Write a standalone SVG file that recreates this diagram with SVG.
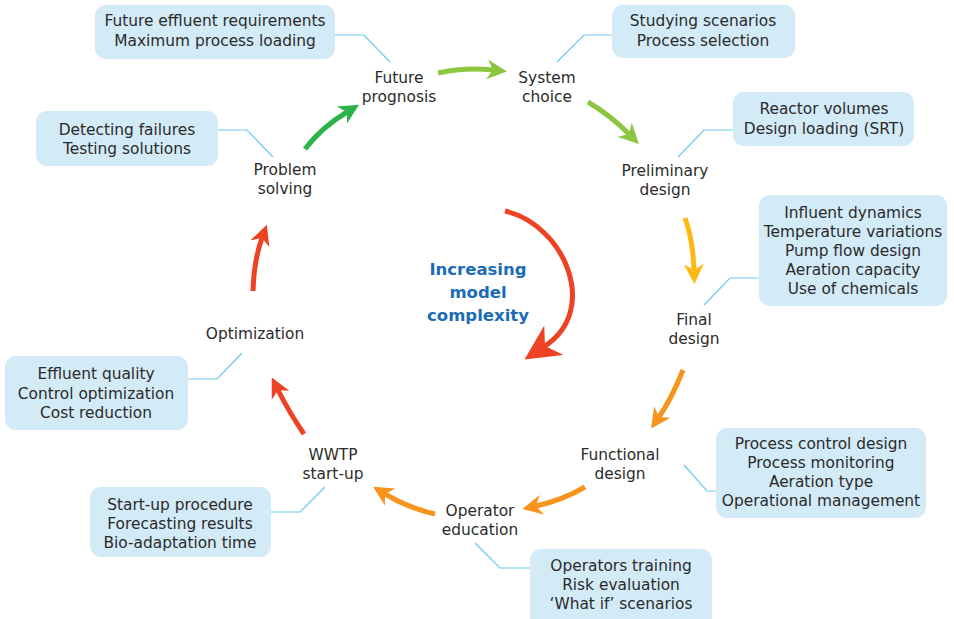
<svg xmlns="http://www.w3.org/2000/svg" width="954" height="619" viewBox="0 0 954 619">
<style>
.box{fill:#d3eaf7;}
.bt{font-family:"DejaVu Sans",sans-serif;font-size:15.4px;fill:#2b2b2b;text-anchor:middle;}
.nt{font-family:"DejaVu Sans",sans-serif;font-size:15.4px;fill:#2b2b2b;text-anchor:middle;}
.lead{fill:none;stroke:#6cc8f0;stroke-width:1.2;}
.arr{fill:none;stroke-width:5;}
.ttl{font-family:"DejaVu Sans",sans-serif;font-size:16.5px;font-weight:bold;fill:#1a6db5;text-anchor:middle;}
</style>
<defs>
<marker id="mG" viewBox="0 0 10 10" refX="3" refY="5" markerWidth="4" markerHeight="4" orient="auto" markerUnits="strokeWidth"><path d="M0,0 L10,5 L0,10 L3,5 z" fill="#2db34a"/></marker>
<marker id="mL" viewBox="0 0 10 10" refX="3" refY="5" markerWidth="4" markerHeight="4" orient="auto" markerUnits="strokeWidth"><path d="M0,0 L10,5 L0,10 L3,5 z" fill="#8cc63f"/></marker>
<marker id="mY" viewBox="0 0 10 10" refX="3" refY="5" markerWidth="4" markerHeight="4" orient="auto" markerUnits="strokeWidth"><path d="M0,0 L10,5 L0,10 L3,5 z" fill="#fdb913"/></marker>
<marker id="mO" viewBox="0 0 10 10" refX="3" refY="5" markerWidth="4" markerHeight="4" orient="auto" markerUnits="strokeWidth"><path d="M0,0 L10,5 L0,10 L3,5 z" fill="#f7941d"/></marker>
<marker id="mR" viewBox="0 0 10 10" refX="3" refY="5" markerWidth="4" markerHeight="4" orient="auto" markerUnits="strokeWidth"><path d="M0,0 L10,5 L0,10 L3,5 z" fill="#ef4123"/></marker>
<marker id="mRB" viewBox="0 0 10 10" refX="3" refY="5" markerWidth="7" markerHeight="7" orient="auto" markerUnits="strokeWidth"><path d="M0,0 L10,5 L0,10 L3,5 z" fill="#ef4123"/></marker>
</defs>

<g id="connectors">
<path class="arr" stroke="#2db34a" marker-end="url(#mG)" d="M305,149 Q322,127 347,112"/>
<path class="arr" stroke="#8cc63f" marker-end="url(#mL)" d="M438,73 Q465,67 493,70"/>
<path class="arr" stroke="#8cc63f" marker-end="url(#mL)" d="M588,102 Q610,115 629,134"/>
<path class="arr" stroke="#fdb913" marker-end="url(#mY)" d="M685,218 Q693,240 694,270"/>
<path class="arr" stroke="#f7941d" marker-end="url(#mO)" d="M683,370 Q672,398 659,417"/>
<path class="arr" stroke="#f7941d" marker-end="url(#mO)" d="M585,487 Q563,500 536,506"/>
<path class="arr" stroke="#f7941d" marker-end="url(#mO)" d="M435,514 Q408,508 385,494"/>
<path class="arr" stroke="#ef4123" marker-end="url(#mR)" d="M304,434 Q289,412 278,390"/>
<path class="arr" stroke="#ef4123" marker-end="url(#mR)" d="M253,291 Q254,260 262,238"/>
<path class="arr" stroke="#ef4123" marker-end="url(#mRB)" d="M505,211 C565,225 600,310 545,346"/>
<path class="lead" d="M335,35 H364 L390,62"/>
<path class="lead" d="M612,35 H584 L557,62"/>
<path class="lead" d="M733,130 H704 L678,157"/>
<path class="lead" d="M759,278 H730 L704,305"/>
<path class="lead" d="M684,465 L707,491 H716"/>
<path class="lead" d="M475,543 L500,568 H530"/>
<path class="lead" d="M271,512 H300 L325,487"/>
<path class="lead" d="M188,379 H217 L242,353"/>
<path class="lead" d="M218,130 H247 L273,157"/>
</g>

<g id="center-label">
<text class="ttl" x="478" y="275">Increasing</text>
<text class="ttl" x="478" y="298">model</text>
<text class="ttl" x="478" y="321">complexity</text>
</g>

<g id="node-future"><text class="nt" x="399" y="83">Future</text><text class="nt" x="399" y="102">prognosis</text></g>
<g id="node-system"><text class="nt" x="547" y="83">System</text><text class="nt" x="547" y="102">choice</text></g>
<g id="node-preliminary"><text class="nt" x="665" y="176">Preliminary</text><text class="nt" x="665" y="195">design</text></g>
<g id="node-final"><text class="nt" x="694" y="325">Final</text><text class="nt" x="694" y="344">design</text></g>
<g id="node-functional"><text class="nt" x="620" y="460">Functional</text><text class="nt" x="620" y="479">design</text></g>
<g id="node-operator"><text class="nt" x="480" y="516">Operator</text><text class="nt" x="480" y="535">education</text></g>
<g id="node-wwtp"><text class="nt" x="333" y="460">WWTP</text><text class="nt" x="333" y="479">start-up</text></g>
<g id="node-optimization"><text class="nt" x="255" y="339">Optimization</text></g>
<g id="node-problem"><text class="nt" x="285" y="175">Problem</text><text class="nt" x="285" y="194">solving</text></g>

<g id="box-future"><rect class="box" x="95" y="5" width="240" height="54" rx="11"/><text class="bt" x="215" y="26">Future effluent requirements</text><text class="bt" x="215" y="46">Maximum process loading</text></g>
<g id="box-system"><rect class="box" x="612" y="5" width="183" height="53" rx="11"/><text class="bt" x="703" y="26">Studying scenarios</text><text class="bt" x="703" y="46">Process selection</text></g>
<g id="box-preliminary"><rect class="box" x="733" y="92" width="181" height="54" rx="11"/><text class="bt" x="824" y="114">Reactor volumes</text><text class="bt" x="824" y="134">Design loading (SRT)</text></g>
<g id="box-final"><rect class="box" x="759" y="195" width="188" height="111" rx="11"/><text class="bt" x="853" y="218">Influent dynamics</text><text class="bt" x="853" y="237">Temperature variations</text><text class="bt" x="853" y="256">Pump flow design</text><text class="bt" x="853" y="275">Aeration capacity</text><text class="bt" x="853" y="294">Use of chemicals</text></g>
<g id="box-functional"><rect class="box" x="716" y="428" width="210" height="90" rx="11"/><text class="bt" x="821" y="449">Process control design</text><text class="bt" x="821" y="468">Process monitoring</text><text class="bt" x="821" y="487">Aeration type</text><text class="bt" x="821" y="506">Operational management</text></g>
<g id="box-operator"><rect class="box" x="530" y="549" width="182" height="80" rx="11"/><text class="bt" x="621" y="571">Operators training</text><text class="bt" x="621" y="590">Risk evaluation</text><text class="bt" x="621" y="609">‘What if’ scenarios</text></g>
<g id="box-wwtp"><rect class="box" x="90" y="487" width="181" height="70" rx="11"/><text class="bt" x="180" y="510">Start-up procedure</text><text class="bt" x="180" y="529">Forecasting results</text><text class="bt" x="180" y="548">Bio-adaptation time</text></g>
<g id="box-optimization"><rect class="box" x="5" y="356" width="183" height="74" rx="11"/><text class="bt" x="96" y="379">Effluent quality</text><text class="bt" x="96" y="399">Control optimization</text><text class="bt" x="96" y="418">Cost reduction</text></g>
<g id="box-problem"><rect class="box" x="36" y="111" width="182" height="55" rx="11"/><text class="bt" x="127" y="135">Detecting failures</text><text class="bt" x="127" y="154">Testing solutions</text></g>
</svg>
